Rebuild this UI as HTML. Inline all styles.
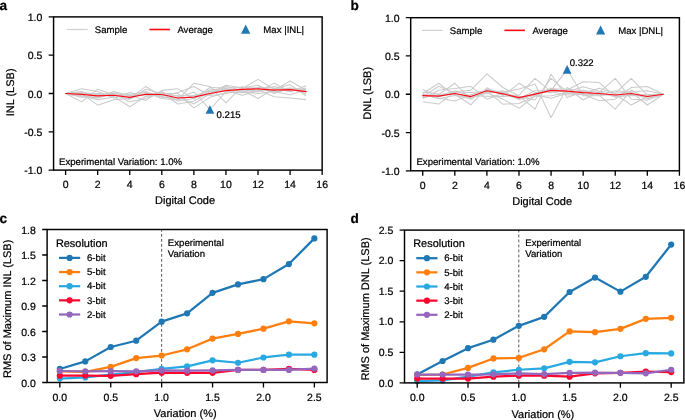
<!DOCTYPE html>
<html><head><meta charset="utf-8"><style>
html,body{margin:0;padding:0;background:#fff;width:685px;height:420px;overflow:hidden}
svg{display:block;filter:blur(0.3px)}
text{text-rendering:geometricPrecision;stroke:#000;stroke-width:0.22px;font-family:"Liberation Sans", sans-serif;fill:#000}
</style></head><body>
<svg width="685" height="420" viewBox="0 0 685 420">
<rect width="685" height="420" fill="#fff"/>
<path d="M65.6 93.5 L81.63 95.8 L97.67 99.63 L113.7 97.33 L129.73 95.8 L145.77 91.43 L161.8 97.33 L177.84 98.02 L193.87 91.97 L209.91 109.51 L225.94 91.97 L241.98 92.73 L258.01 90.9 L274.05 86.45 L290.08 89.67 L306.12 91.97" fill="none" stroke="#cbcbcb" stroke-width="1.05" stroke-linejoin="round"/>
<path d="M65.6 93.5 L81.63 101.85 L97.67 89.21 L113.7 95.03 L129.73 99.47 L145.77 89.21 L161.8 93.5 L177.84 93.5 L193.87 107.82 L209.91 97.33 L225.94 92.73 L241.98 91.97 L258.01 87.14 L274.05 88.14 L290.08 91.66 L306.12 85.84" fill="none" stroke="#cbcbcb" stroke-width="1.05" stroke-linejoin="round"/>
<path d="M65.6 93.5 L81.63 97.33 L97.67 95.8 L113.7 92.73 L129.73 97.33 L145.77 93.5 L161.8 96.56 L177.84 92.5 L193.87 86.45 L209.91 95.57 L225.94 93.5 L241.98 88.9 L258.01 79.33 L274.05 89.29 L290.08 88.14 L306.12 93.65" fill="none" stroke="#cbcbcb" stroke-width="1.05" stroke-linejoin="round"/>
<path d="M65.6 93.5 L81.63 88.67 L97.67 91.43 L113.7 98.1 L129.73 92.5 L145.77 96.33 L161.8 92.73 L177.84 103.99 L193.87 101.16 L209.91 91.81 L225.94 90.44 L241.98 95.19 L258.01 90.82 L274.05 90.44 L290.08 80.94 L306.12 90.28" fill="none" stroke="#cbcbcb" stroke-width="1.05" stroke-linejoin="round"/>
<path d="M65.6 93.5 L81.63 92.73 L97.67 94.11 L113.7 96.56 L129.73 106.75 L145.77 96.33 L161.8 95.03 L177.84 95.8 L193.87 95.8 L209.91 95.03 L225.94 86.45 L241.98 90.28 L258.01 98.48 L274.05 88.52 L290.08 84.77 L306.12 95.8" fill="none" stroke="#cbcbcb" stroke-width="1.05" stroke-linejoin="round"/>
<path d="M65.6 93.5 L81.63 93.5 L97.67 105.14 L113.7 99.63 L129.73 98.56 L145.77 86.45 L161.8 96.56 L177.84 99.63 L193.87 83.16 L209.91 86.45 L225.94 102.85 L241.98 86.45 L258.01 91.97 L274.05 83.16 L290.08 91.43 L306.12 88.06" fill="none" stroke="#cbcbcb" stroke-width="1.05" stroke-linejoin="round"/>
<path d="M65.6 93.5 L81.63 94.27 L97.67 93.5 L113.7 95.8 L129.73 94.27 L145.77 92.58 L161.8 98.56 L177.84 100.09 L193.87 95.49 L209.91 91.2 L225.94 88.9 L241.98 91.51 L258.01 93.5 L274.05 91.43 L290.08 94.73 L306.12 89.67" fill="none" stroke="#cbcbcb" stroke-width="1.05" stroke-linejoin="round"/>
<path d="M65.6 93.5 L81.63 91.43 L97.67 97.33 L113.7 91.43 L129.73 95.72 L145.77 95.03 L161.8 92.81 L177.84 96.33 L193.87 103.99 L209.91 93.5 L225.94 85.3 L241.98 87.76 L258.01 85.3 L274.05 93.5 L290.08 87.91 L306.12 89.9" fill="none" stroke="#cbcbcb" stroke-width="1.05" stroke-linejoin="round"/>
<path d="M65.6 93.5 L81.63 92.73 L97.67 94.27 L113.7 93.5 L129.73 101.85 L145.77 98.56 L161.8 91.43 L177.84 101.16 L193.87 98.48 L209.91 89.67 L225.94 88.98 L241.98 91.2 L258.01 89.67 L274.05 96.79 L290.08 97.94 L306.12 99.63" fill="none" stroke="#cbcbcb" stroke-width="1.05" stroke-linejoin="round"/>
<path d="M65.6 93.5 L81.63 96.49 L97.67 97.87 L113.7 93.58 L129.73 95.03 L145.77 100.39 L161.8 90.36 L177.84 88.67 L193.87 99.24 L209.91 87.53 L225.94 88.14 L241.98 87.53 L258.01 88.14 L274.05 92.27 L290.08 88.9 L306.12 91.2" fill="none" stroke="#cbcbcb" stroke-width="1.05" stroke-linejoin="round"/>
<path d="M65.6 93.5 L81.63 94.42 L97.67 95.8 L113.7 95.26 L129.73 97.41 L145.77 94.27 L161.8 94.5 L177.84 98.02 L193.87 97.18 L209.91 93.5 L225.94 90.67 L241.98 89.44 L258.01 88.83 L274.05 90.21 L290.08 89.59 L306.12 91.59" fill="none" stroke="#ff0a14" stroke-width="1.2" stroke-linejoin="round" stroke-linecap="round"/>
<path d="M209.91 105.16L214.26 113.86L205.56 113.86Z" fill="#1f77b4"/>
<text x="216.6" y="117.6" font-size="9.6" text-anchor="start" font-weight="normal" >0.215</text>
<rect x="53.57" y="16.9" width="268.58" height="153.2" fill="none" stroke="#000" stroke-width="1.45" stroke-linejoin="miter"/>
<path d="M65.6 170.1V175M97.67 170.1V175M129.73 170.1V175M161.8 170.1V175M193.87 170.1V175M225.94 170.1V175M258.01 170.1V175M290.08 170.1V175M322.15 170.1V175" stroke="#000" stroke-width="1.3"/>
<text x="65.6" y="188.4" font-size="10.5" text-anchor="middle" font-weight="normal" >0</text>
<text x="97.67" y="188.4" font-size="10.5" text-anchor="middle" font-weight="normal" >2</text>
<text x="129.73" y="188.4" font-size="10.5" text-anchor="middle" font-weight="normal" >4</text>
<text x="161.8" y="188.4" font-size="10.5" text-anchor="middle" font-weight="normal" >6</text>
<text x="193.87" y="188.4" font-size="10.5" text-anchor="middle" font-weight="normal" >8</text>
<text x="225.94" y="188.4" font-size="10.5" text-anchor="middle" font-weight="normal" >10</text>
<text x="258.01" y="188.4" font-size="10.5" text-anchor="middle" font-weight="normal" >12</text>
<text x="290.08" y="188.4" font-size="10.5" text-anchor="middle" font-weight="normal" >14</text>
<text x="322.15" y="188.4" font-size="10.5" text-anchor="middle" font-weight="normal" >16</text>
<path d="M53.57 16.9H48.67M53.57 55.2H48.67M53.57 93.5H48.67M53.57 131.8H48.67M53.57 170.1H48.67" stroke="#000" stroke-width="1.3"/>
<text x="42.37" y="20.95" font-size="10.5" text-anchor="end" font-weight="normal" >1.0</text>
<text x="42.37" y="59.25" font-size="10.5" text-anchor="end" font-weight="normal" >0.5</text>
<text x="42.37" y="97.55" font-size="10.5" text-anchor="end" font-weight="normal" >0.0</text>
<text x="42.37" y="135.85" font-size="10.5" text-anchor="end" font-weight="normal" >-0.5</text>
<text x="42.37" y="174.15" font-size="10.5" text-anchor="end" font-weight="normal" >-1.0</text>
<path d="M66.9 29.5H87.7" stroke="#d0d0d0" stroke-width="1.2"/>
<text x="94.8" y="32.8" font-size="9.6" text-anchor="start" font-weight="normal" >Sample</text>
<path d="M149.4 29.5H169.9" stroke="#ff0a14" stroke-width="1.6"/>
<text x="177.4" y="32.8" font-size="9.6" text-anchor="start" font-weight="normal" >Average</text>
<path d="M245.7 24.6L250.3 33.8L241.1 33.8Z" fill="#1f77b4"/>
<text x="263.35" y="32.8" font-size="9.6" text-anchor="start" font-weight="normal" >Max |INL|</text>
<path d="M422.73 94.25 L438.77 98.84 L454.81 95.55 L470.86 98.61 L486.9 91.95 L502.94 92.72 L518.98 98.38 L535.02 90.81 L551.07 90.42 L567.11 69.6 L583.15 95.78 L599.19 95.78 L615.23 90.81 L631.27 91.95 L647.32 90.81 L663.36 94.25" fill="none" stroke="#cbcbcb" stroke-width="1.05" stroke-linejoin="round"/>
<path d="M422.73 93.87 L438.77 98.23 L454.81 100.99 L470.86 94.86 L486.9 90.12 L502.94 92.11 L518.98 89.12 L535.02 84.15 L551.07 117.52 L567.11 87.51 L583.15 99.99 L599.19 91.8 L615.23 97.08 L631.27 94.25 L647.32 94.79 L663.36 94.25" fill="none" stroke="#cbcbcb" stroke-width="1.05" stroke-linejoin="round"/>
<path d="M422.73 101.75 L438.77 104.05 L454.81 91.8 L470.86 90.19 L486.9 73.89 L502.94 87.51 L518.98 96.01 L535.02 109.18 L551.07 74.19 L567.11 97.54 L583.15 91.65 L599.19 95.55 L615.23 94.25 L631.27 104.97 L647.32 96.55 L663.36 94.25" fill="none" stroke="#cbcbcb" stroke-width="1.05" stroke-linejoin="round"/>
<path d="M422.73 95.02 L438.77 95.78 L454.81 90.88 L470.86 95.78 L486.9 96.32 L502.94 96.62 L518.98 95.02 L535.02 78.33 L551.07 91.65 L567.11 95.02 L583.15 94.25 L599.19 100.83 L615.23 99.15 L631.27 87.51 L647.32 86.59 L663.36 94.25" fill="none" stroke="#cbcbcb" stroke-width="1.05" stroke-linejoin="round"/>
<path d="M422.73 96.55 L438.77 86.29 L454.81 93.18 L470.86 97.31 L486.9 93.25 L502.94 90.88 L518.98 99.76 L535.02 95.02 L551.07 98.23 L567.11 93.33 L583.15 91.03 L599.19 95.02 L615.23 109.18 L631.27 90.04 L647.32 98.38 L663.36 94.25" fill="none" stroke="#cbcbcb" stroke-width="1.05" stroke-linejoin="round"/>
<path d="M422.73 93.48 L438.77 83.23 L454.81 95.55 L470.86 97.08 L486.9 92.8 L502.94 99.15 L518.98 108.34 L535.02 95.78 L551.07 88.13 L567.11 93.1 L583.15 93.48 L599.19 88.36 L615.23 93.33 L631.27 78.33 L647.32 95.02 L663.36 94.25" fill="none" stroke="#cbcbcb" stroke-width="1.05" stroke-linejoin="round"/>
<path d="M422.73 97.62 L438.77 94.48 L454.81 83.23 L470.86 99.38 L486.9 89.04 L502.94 94.25 L518.98 98.84 L535.02 93.48 L551.07 88.74 L567.11 89.35 L583.15 90.42 L599.19 92.49 L615.23 78.33 L631.27 99.15 L647.32 99.99 L663.36 94.25" fill="none" stroke="#cbcbcb" stroke-width="1.05" stroke-linejoin="round"/>
<path d="M422.73 89.35 L438.77 97.08 L454.81 91.95 L470.86 92.49 L486.9 91.19 L502.94 104.2 L518.98 103.44 L535.02 96.24 L551.07 95.78 L567.11 92.72 L583.15 94.79 L599.19 94.25 L615.23 95.02 L631.27 93.33 L647.32 98.54 L663.36 94.25" fill="none" stroke="#cbcbcb" stroke-width="1.05" stroke-linejoin="round"/>
<path d="M422.73 91.95 L438.77 94.02 L454.81 94.25 L470.86 104.81 L486.9 87.82 L502.94 95.86 L518.98 83.3 L535.02 92.49 L551.07 92.49 L567.11 90.04 L583.15 81.7 L599.19 82.54 L615.23 96.62 L631.27 95.55 L647.32 95.78 L663.36 94.25" fill="none" stroke="#cbcbcb" stroke-width="1.05" stroke-linejoin="round"/>
<path d="M422.73 98.84 L438.77 90.19 L454.81 88.59 L470.86 86.29 L486.9 99.15 L502.94 93.33 L518.98 96.55 L535.02 99.99 L551.07 78.33 L567.11 91.95 L583.15 86.67 L599.19 91.19 L615.23 93.33 L631.27 91.8 L647.32 104.97 L663.36 94.25" fill="none" stroke="#cbcbcb" stroke-width="1.05" stroke-linejoin="round"/>
<path d="M422.73 95.55 L438.77 96.16 L454.81 93.48 L470.86 96.55 L486.9 90.73 L502.94 93.79 L518.98 97.69 L535.02 94.17 L551.07 90.42 L567.11 91.03 L583.15 92.72 L599.19 93.48 L615.23 95.02 L631.27 93.48 L647.32 96.47 L663.36 94.25" fill="none" stroke="#ff0a14" stroke-width="1.2" stroke-linejoin="round" stroke-linecap="round"/>
<path d="M567.11 64.94L571.46 73.64L562.76 73.64Z" fill="#1f77b4"/>
<text x="569.7" y="66.2" font-size="9.6" text-anchor="start" font-weight="normal" >0.322</text>
<rect x="410.7" y="17.7" width="268.7" height="153.1" fill="none" stroke="#000" stroke-width="1.45" stroke-linejoin="miter"/>
<path d="M422.73 170.8V175.7M454.81 170.8V175.7M486.9 170.8V175.7M518.98 170.8V175.7M551.07 170.8V175.7M583.15 170.8V175.7M615.23 170.8V175.7M647.32 170.8V175.7M679.4 170.8V175.7" stroke="#000" stroke-width="1.3"/>
<text x="422.73" y="189.1" font-size="10.5" text-anchor="middle" font-weight="normal" >0</text>
<text x="454.81" y="189.1" font-size="10.5" text-anchor="middle" font-weight="normal" >2</text>
<text x="486.9" y="189.1" font-size="10.5" text-anchor="middle" font-weight="normal" >4</text>
<text x="518.98" y="189.1" font-size="10.5" text-anchor="middle" font-weight="normal" >6</text>
<text x="551.07" y="189.1" font-size="10.5" text-anchor="middle" font-weight="normal" >8</text>
<text x="583.15" y="189.1" font-size="10.5" text-anchor="middle" font-weight="normal" >10</text>
<text x="615.23" y="189.1" font-size="10.5" text-anchor="middle" font-weight="normal" >12</text>
<text x="647.32" y="189.1" font-size="10.5" text-anchor="middle" font-weight="normal" >14</text>
<text x="679.4" y="189.1" font-size="10.5" text-anchor="middle" font-weight="normal" >16</text>
<path d="M410.7 17.7H405.8M410.7 55.97H405.8M410.7 94.25H405.8M410.7 132.53H405.8M410.7 170.8H405.8" stroke="#000" stroke-width="1.3"/>
<text x="399.5" y="21.75" font-size="10.5" text-anchor="end" font-weight="normal" >1.0</text>
<text x="399.5" y="60.02" font-size="10.5" text-anchor="end" font-weight="normal" >0.5</text>
<text x="399.5" y="98.3" font-size="10.5" text-anchor="end" font-weight="normal" >0.0</text>
<text x="399.5" y="136.58" font-size="10.5" text-anchor="end" font-weight="normal" >-0.5</text>
<text x="399.5" y="174.85" font-size="10.5" text-anchor="end" font-weight="normal" >-1.0</text>
<path d="M421.9 30.35H442.7" stroke="#d0d0d0" stroke-width="1.2"/>
<text x="449.8" y="33.65" font-size="9.6" text-anchor="start" font-weight="normal" >Sample</text>
<path d="M504.4 30.35H524.9" stroke="#ff0a14" stroke-width="1.6"/>
<text x="532.4" y="33.65" font-size="9.6" text-anchor="start" font-weight="normal" >Average</text>
<path d="M600.6 25.4L605.2 34.6L596 34.6Z" fill="#1f77b4"/>
<text x="618.15" y="33.65" font-size="9.6" text-anchor="start" font-weight="normal" >Max |DNL|</text>
<text x="59.05" y="164.8" font-size="9.6" text-anchor="start" font-weight="normal" >Experimental Variation: 1.0%</text>
<text x="416.45" y="165.4" font-size="9.6" text-anchor="start" font-weight="normal" >Experimental Variation: 1.0%</text>
<text x="185.05" y="204" font-size="11.0" text-anchor="middle" font-weight="normal" >Digital Code</text>
<text x="542.15" y="204.6" font-size="11.0" text-anchor="middle" font-weight="normal" >Digital Code</text>
<text x="13.95" y="92.4" font-size="11.0" text-anchor="middle" font-weight="normal" transform="rotate(-90 13.95 92.4)">INL (LSB)</text>
<text x="371" y="93.3" font-size="11.0" text-anchor="middle" font-weight="normal" transform="rotate(-90 371.0 93.3)">DNL (LSB)</text>
<path d="M161.65 229.5V382.5" stroke="#5a5a5a" stroke-width="1.0" stroke-dasharray="2.9 2.1" stroke-dashoffset="0.6"/>
<path d="M59.83 368.96 L85.28 361.39 L110.74 347.02 L136.19 340.72 L161.65 321.67 L187.1 313.33 L212.55 292.83 L238.01 284.41 L263.46 279.14 L288.92 264.08 L314.37 238.39" fill="none" stroke="#1f77b4" stroke-width="2.25" stroke-linejoin="round"/>
<circle cx="59.83" cy="368.96" r="3.1" fill="#1f77b4"/>
<circle cx="85.28" cy="361.39" r="3.1" fill="#1f77b4"/>
<circle cx="110.74" cy="347.02" r="3.1" fill="#1f77b4"/>
<circle cx="136.19" cy="340.72" r="3.1" fill="#1f77b4"/>
<circle cx="161.65" cy="321.67" r="3.1" fill="#1f77b4"/>
<circle cx="187.1" cy="313.33" r="3.1" fill="#1f77b4"/>
<circle cx="212.55" cy="292.83" r="3.1" fill="#1f77b4"/>
<circle cx="238.01" cy="284.41" r="3.1" fill="#1f77b4"/>
<circle cx="263.46" cy="279.14" r="3.1" fill="#1f77b4"/>
<circle cx="288.92" cy="264.08" r="3.1" fill="#1f77b4"/>
<circle cx="314.37" cy="238.39" r="3.1" fill="#1f77b4"/>
<path d="M59.83 371.34 L85.28 371.77 L110.74 366.92 L136.19 358.07 L161.65 355.52 L187.1 349.31 L212.55 338.59 L238.01 333.92 L263.46 328.64 L288.92 321.33 L314.37 323.37" fill="none" stroke="#ff7f0e" stroke-width="2.25" stroke-linejoin="round"/>
<circle cx="59.83" cy="371.34" r="3.1" fill="#ff7f0e"/>
<circle cx="85.28" cy="371.77" r="3.1" fill="#ff7f0e"/>
<circle cx="110.74" cy="366.92" r="3.1" fill="#ff7f0e"/>
<circle cx="136.19" cy="358.07" r="3.1" fill="#ff7f0e"/>
<circle cx="161.65" cy="355.52" r="3.1" fill="#ff7f0e"/>
<circle cx="187.1" cy="349.31" r="3.1" fill="#ff7f0e"/>
<circle cx="212.55" cy="338.59" r="3.1" fill="#ff7f0e"/>
<circle cx="238.01" cy="333.92" r="3.1" fill="#ff7f0e"/>
<circle cx="263.46" cy="328.64" r="3.1" fill="#ff7f0e"/>
<circle cx="288.92" cy="321.33" r="3.1" fill="#ff7f0e"/>
<circle cx="314.37" cy="323.37" r="3.1" fill="#ff7f0e"/>
<path d="M59.83 378.57 L85.28 377.38 L110.74 374.74 L136.19 372.19 L161.65 368.79 L187.1 366.41 L212.55 360.37 L238.01 362.75 L263.46 357.48 L288.92 354.67 L314.37 354.67" fill="none" stroke="#29a9e1" stroke-width="2.25" stroke-linejoin="round"/>
<circle cx="59.83" cy="378.57" r="3.1" fill="#29a9e1"/>
<circle cx="85.28" cy="377.38" r="3.1" fill="#29a9e1"/>
<circle cx="110.74" cy="374.74" r="3.1" fill="#29a9e1"/>
<circle cx="136.19" cy="372.19" r="3.1" fill="#29a9e1"/>
<circle cx="161.65" cy="368.79" r="3.1" fill="#29a9e1"/>
<circle cx="187.1" cy="366.41" r="3.1" fill="#29a9e1"/>
<circle cx="212.55" cy="360.37" r="3.1" fill="#29a9e1"/>
<circle cx="238.01" cy="362.75" r="3.1" fill="#29a9e1"/>
<circle cx="263.46" cy="357.48" r="3.1" fill="#29a9e1"/>
<circle cx="288.92" cy="354.67" r="3.1" fill="#29a9e1"/>
<circle cx="314.37" cy="354.67" r="3.1" fill="#29a9e1"/>
<path d="M59.83 375.68 L85.28 375.51 L110.74 375.85 L136.19 374.23 L161.65 372.7 L187.1 372.79 L212.55 372.79 L238.01 369.9 L263.46 369.9 L288.92 368.79 L314.37 369.9" fill="none" stroke="#ff0530" stroke-width="2.25" stroke-linejoin="round"/>
<circle cx="59.83" cy="375.68" r="3.1" fill="#ff0530"/>
<circle cx="85.28" cy="375.51" r="3.1" fill="#ff0530"/>
<circle cx="110.74" cy="375.85" r="3.1" fill="#ff0530"/>
<circle cx="136.19" cy="374.23" r="3.1" fill="#ff0530"/>
<circle cx="161.65" cy="372.7" r="3.1" fill="#ff0530"/>
<circle cx="187.1" cy="372.79" r="3.1" fill="#ff0530"/>
<circle cx="212.55" cy="372.79" r="3.1" fill="#ff0530"/>
<circle cx="238.01" cy="369.9" r="3.1" fill="#ff0530"/>
<circle cx="263.46" cy="369.9" r="3.1" fill="#ff0530"/>
<circle cx="288.92" cy="368.79" r="3.1" fill="#ff0530"/>
<circle cx="314.37" cy="369.9" r="3.1" fill="#ff0530"/>
<path d="M59.83 371 L85.28 371.26 L110.74 371.17 L136.19 371.34 L161.65 370.49 L187.1 370.66 L212.55 370.41 L238.01 369.9 L263.46 369.9 L288.92 369.9 L314.37 368.62" fill="none" stroke="#9467bd" stroke-width="2.25" stroke-linejoin="round"/>
<circle cx="59.83" cy="371" r="3.1" fill="#9467bd"/>
<circle cx="85.28" cy="371.26" r="3.1" fill="#9467bd"/>
<circle cx="110.74" cy="371.17" r="3.1" fill="#9467bd"/>
<circle cx="136.19" cy="371.34" r="3.1" fill="#9467bd"/>
<circle cx="161.65" cy="370.49" r="3.1" fill="#9467bd"/>
<circle cx="187.1" cy="370.66" r="3.1" fill="#9467bd"/>
<circle cx="212.55" cy="370.41" r="3.1" fill="#9467bd"/>
<circle cx="238.01" cy="369.9" r="3.1" fill="#9467bd"/>
<circle cx="263.46" cy="369.9" r="3.1" fill="#9467bd"/>
<circle cx="288.92" cy="369.9" r="3.1" fill="#9467bd"/>
<circle cx="314.37" cy="368.62" r="3.1" fill="#9467bd"/>
<rect x="47.1" y="229.5" width="280" height="153" fill="none" stroke="#000" stroke-width="1.45" stroke-linejoin="miter"/>
<path d="M59.83 382.5V387.4M110.74 382.5V387.4M161.65 382.5V387.4M212.55 382.5V387.4M263.46 382.5V387.4M314.37 382.5V387.4" stroke="#000" stroke-width="1.3"/>
<text x="59.83" y="400.6" font-size="10.5" text-anchor="middle" font-weight="normal" >0.0</text>
<text x="110.74" y="400.6" font-size="10.5" text-anchor="middle" font-weight="normal" >0.5</text>
<text x="161.65" y="400.6" font-size="10.5" text-anchor="middle" font-weight="normal" >1.0</text>
<text x="212.55" y="400.6" font-size="10.5" text-anchor="middle" font-weight="normal" >1.5</text>
<text x="263.46" y="400.6" font-size="10.5" text-anchor="middle" font-weight="normal" >2.0</text>
<text x="314.37" y="400.6" font-size="10.5" text-anchor="middle" font-weight="normal" >2.5</text>
<path d="M47.1 382.5H42.2M47.1 357H42.2M47.1 331.5H42.2M47.1 306H42.2M47.1 280.5H42.2M47.1 255H42.2M47.1 229.5H42.2" stroke="#000" stroke-width="1.3"/>
<text x="35.9" y="386.55" font-size="10.5" text-anchor="end" font-weight="normal" >0.0</text>
<text x="35.9" y="361.05" font-size="10.5" text-anchor="end" font-weight="normal" >0.3</text>
<text x="35.9" y="335.55" font-size="10.5" text-anchor="end" font-weight="normal" >0.6</text>
<text x="35.9" y="310.05" font-size="10.5" text-anchor="end" font-weight="normal" >0.9</text>
<text x="35.9" y="284.55" font-size="10.5" text-anchor="end" font-weight="normal" >1.2</text>
<text x="35.9" y="259.05" font-size="10.5" text-anchor="end" font-weight="normal" >1.5</text>
<text x="35.9" y="233.55" font-size="10.5" text-anchor="end" font-weight="normal" >1.8</text>
<text x="55.9" y="246.7" font-size="10.95" text-anchor="start" font-weight="normal" >Resolution</text>
<path d="M59 257.9H80.2" stroke="#1f77b4" stroke-width="2.25"/>
<circle cx="69.6" cy="257.9" r="3.1" fill="#1f77b4"/>
<text x="86.9" y="261.1" font-size="9.6" text-anchor="start" font-weight="normal" >6-bit</text>
<path d="M59 272.05H80.2" stroke="#ff7f0e" stroke-width="2.25"/>
<circle cx="69.6" cy="272.05" r="3.1" fill="#ff7f0e"/>
<text x="86.9" y="275.25" font-size="9.6" text-anchor="start" font-weight="normal" >5-bit</text>
<path d="M59 286.2H80.2" stroke="#29a9e1" stroke-width="2.25"/>
<circle cx="69.6" cy="286.2" r="3.1" fill="#29a9e1"/>
<text x="86.9" y="289.4" font-size="9.6" text-anchor="start" font-weight="normal" >4-bit</text>
<path d="M59 300.35H80.2" stroke="#ff0530" stroke-width="2.25"/>
<circle cx="69.6" cy="300.35" r="3.1" fill="#ff0530"/>
<text x="86.9" y="303.55" font-size="9.6" text-anchor="start" font-weight="normal" >3-bit</text>
<path d="M59 314.5H80.2" stroke="#9467bd" stroke-width="2.25"/>
<circle cx="69.6" cy="314.5" r="3.1" fill="#9467bd"/>
<text x="86.9" y="317.7" font-size="9.6" text-anchor="start" font-weight="normal" >2-bit</text>
<text x="167.85" y="246" font-size="9.6" text-anchor="start" font-weight="normal" >Experimental</text>
<text x="167.85" y="256.9" font-size="9.6" text-anchor="start" font-weight="normal" >Variation</text>
<path d="M518.8 230.1V382.9" stroke="#5a5a5a" stroke-width="1.0" stroke-dasharray="2.9 2.1" stroke-dashoffset="0.6"/>
<path d="M417.2 374.39 L442.6 361.02 L468 348.19 L493.4 339.7 L518.8 325.83 L544.2 316.86 L569.6 292 L595 277.58 L620.4 291.63 L645.8 276.79 L671.2 244.54" fill="none" stroke="#1f77b4" stroke-width="2.25" stroke-linejoin="round"/>
<circle cx="417.2" cy="374.39" r="3.1" fill="#1f77b4"/>
<circle cx="442.6" cy="361.02" r="3.1" fill="#1f77b4"/>
<circle cx="468" cy="348.19" r="3.1" fill="#1f77b4"/>
<circle cx="493.4" cy="339.7" r="3.1" fill="#1f77b4"/>
<circle cx="518.8" cy="325.83" r="3.1" fill="#1f77b4"/>
<circle cx="544.2" cy="316.86" r="3.1" fill="#1f77b4"/>
<circle cx="569.6" cy="292" r="3.1" fill="#1f77b4"/>
<circle cx="595" cy="277.58" r="3.1" fill="#1f77b4"/>
<circle cx="620.4" cy="291.63" r="3.1" fill="#1f77b4"/>
<circle cx="645.8" cy="276.79" r="3.1" fill="#1f77b4"/>
<circle cx="671.2" cy="244.54" r="3.1" fill="#1f77b4"/>
<path d="M417.2 374.76 L442.6 374.52 L468 367.92 L493.4 358.45 L518.8 357.9 L544.2 349.29 L569.6 331.45 L595 332.13 L620.4 328.83 L645.8 318.87 L671.2 317.77" fill="none" stroke="#ff7f0e" stroke-width="2.25" stroke-linejoin="round"/>
<circle cx="417.2" cy="374.76" r="3.1" fill="#ff7f0e"/>
<circle cx="442.6" cy="374.52" r="3.1" fill="#ff7f0e"/>
<circle cx="468" cy="367.92" r="3.1" fill="#ff7f0e"/>
<circle cx="493.4" cy="358.45" r="3.1" fill="#ff7f0e"/>
<circle cx="518.8" cy="357.9" r="3.1" fill="#ff7f0e"/>
<circle cx="544.2" cy="349.29" r="3.1" fill="#ff7f0e"/>
<circle cx="569.6" cy="331.45" r="3.1" fill="#ff7f0e"/>
<circle cx="595" cy="332.13" r="3.1" fill="#ff7f0e"/>
<circle cx="620.4" cy="328.83" r="3.1" fill="#ff7f0e"/>
<circle cx="645.8" cy="318.87" r="3.1" fill="#ff7f0e"/>
<circle cx="671.2" cy="317.77" r="3.1" fill="#ff7f0e"/>
<path d="M417.2 381.11 L442.6 380.32 L468 376.71 L493.4 372.32 L518.8 369.75 L544.2 368.29 L569.6 361.87 L595 362.36 L620.4 356.25 L645.8 353.14 L671.2 353.38" fill="none" stroke="#29a9e1" stroke-width="2.25" stroke-linejoin="round"/>
<circle cx="417.2" cy="381.11" r="3.1" fill="#29a9e1"/>
<circle cx="442.6" cy="380.32" r="3.1" fill="#29a9e1"/>
<circle cx="468" cy="376.71" r="3.1" fill="#29a9e1"/>
<circle cx="493.4" cy="372.32" r="3.1" fill="#29a9e1"/>
<circle cx="518.8" cy="369.75" r="3.1" fill="#29a9e1"/>
<circle cx="544.2" cy="368.29" r="3.1" fill="#29a9e1"/>
<circle cx="569.6" cy="361.87" r="3.1" fill="#29a9e1"/>
<circle cx="595" cy="362.36" r="3.1" fill="#29a9e1"/>
<circle cx="620.4" cy="356.25" r="3.1" fill="#29a9e1"/>
<circle cx="645.8" cy="353.14" r="3.1" fill="#29a9e1"/>
<circle cx="671.2" cy="353.38" r="3.1" fill="#29a9e1"/>
<path d="M417.2 378.61 L442.6 378.61 L468 378.61 L493.4 376.71 L518.8 375.68 L544.2 375.68 L569.6 376.71 L595 373.35 L620.4 372.87 L645.8 371.58 L671.2 372.07" fill="none" stroke="#ff0530" stroke-width="2.25" stroke-linejoin="round"/>
<circle cx="417.2" cy="378.61" r="3.1" fill="#ff0530"/>
<circle cx="442.6" cy="378.61" r="3.1" fill="#ff0530"/>
<circle cx="468" cy="378.61" r="3.1" fill="#ff0530"/>
<circle cx="493.4" cy="376.71" r="3.1" fill="#ff0530"/>
<circle cx="518.8" cy="375.68" r="3.1" fill="#ff0530"/>
<circle cx="544.2" cy="375.68" r="3.1" fill="#ff0530"/>
<circle cx="569.6" cy="376.71" r="3.1" fill="#ff0530"/>
<circle cx="595" cy="373.35" r="3.1" fill="#ff0530"/>
<circle cx="620.4" cy="372.87" r="3.1" fill="#ff0530"/>
<circle cx="645.8" cy="371.58" r="3.1" fill="#ff0530"/>
<circle cx="671.2" cy="372.07" r="3.1" fill="#ff0530"/>
<path d="M417.2 374.52 L442.6 374.52 L468 374.52 L493.4 374.27 L518.8 373.35 L544.2 374.09 L569.6 372.87 L595 372.56 L620.4 372.87 L645.8 373.35 L671.2 369.75" fill="none" stroke="#9467bd" stroke-width="2.25" stroke-linejoin="round"/>
<circle cx="417.2" cy="374.52" r="3.1" fill="#9467bd"/>
<circle cx="442.6" cy="374.52" r="3.1" fill="#9467bd"/>
<circle cx="468" cy="374.52" r="3.1" fill="#9467bd"/>
<circle cx="493.4" cy="374.27" r="3.1" fill="#9467bd"/>
<circle cx="518.8" cy="373.35" r="3.1" fill="#9467bd"/>
<circle cx="544.2" cy="374.09" r="3.1" fill="#9467bd"/>
<circle cx="569.6" cy="372.87" r="3.1" fill="#9467bd"/>
<circle cx="595" cy="372.56" r="3.1" fill="#9467bd"/>
<circle cx="620.4" cy="372.87" r="3.1" fill="#9467bd"/>
<circle cx="645.8" cy="373.35" r="3.1" fill="#9467bd"/>
<circle cx="671.2" cy="369.75" r="3.1" fill="#9467bd"/>
<rect x="404.5" y="230.1" width="279.4" height="152.8" fill="none" stroke="#000" stroke-width="1.45" stroke-linejoin="miter"/>
<path d="M417.2 382.9V387.8M468 382.9V387.8M518.8 382.9V387.8M569.6 382.9V387.8M620.4 382.9V387.8M671.2 382.9V387.8" stroke="#000" stroke-width="1.3"/>
<text x="417.2" y="401" font-size="10.5" text-anchor="middle" font-weight="normal" >0.0</text>
<text x="468" y="401" font-size="10.5" text-anchor="middle" font-weight="normal" >0.5</text>
<text x="518.8" y="401" font-size="10.5" text-anchor="middle" font-weight="normal" >1.0</text>
<text x="569.6" y="401" font-size="10.5" text-anchor="middle" font-weight="normal" >1.5</text>
<text x="620.4" y="401" font-size="10.5" text-anchor="middle" font-weight="normal" >2.0</text>
<text x="671.2" y="401" font-size="10.5" text-anchor="middle" font-weight="normal" >2.5</text>
<path d="M404.5 382.9H399.6M404.5 352.34H399.6M404.5 321.78H399.6M404.5 291.22H399.6M404.5 260.66H399.6M404.5 230.1H399.6" stroke="#000" stroke-width="1.3"/>
<text x="393.3" y="386.5" font-size="10.5" text-anchor="end" font-weight="normal" >0.0</text>
<text x="393.3" y="355.94" font-size="10.5" text-anchor="end" font-weight="normal" >0.5</text>
<text x="393.3" y="325.38" font-size="10.5" text-anchor="end" font-weight="normal" >1.0</text>
<text x="393.3" y="294.82" font-size="10.5" text-anchor="end" font-weight="normal" >1.5</text>
<text x="393.3" y="264.26" font-size="10.5" text-anchor="end" font-weight="normal" >2.0</text>
<text x="393.3" y="233.7" font-size="10.5" text-anchor="end" font-weight="normal" >2.5</text>
<text x="413.2" y="247" font-size="10.95" text-anchor="start" font-weight="normal" >Resolution</text>
<path d="M416.3 258.2H437.5" stroke="#1f77b4" stroke-width="2.25"/>
<circle cx="426.9" cy="258.2" r="3.1" fill="#1f77b4"/>
<text x="444.2" y="261.4" font-size="9.6" text-anchor="start" font-weight="normal" >6-bit</text>
<path d="M416.3 272.35H437.5" stroke="#ff7f0e" stroke-width="2.25"/>
<circle cx="426.9" cy="272.35" r="3.1" fill="#ff7f0e"/>
<text x="444.2" y="275.55" font-size="9.6" text-anchor="start" font-weight="normal" >5-bit</text>
<path d="M416.3 286.5H437.5" stroke="#29a9e1" stroke-width="2.25"/>
<circle cx="426.9" cy="286.5" r="3.1" fill="#29a9e1"/>
<text x="444.2" y="289.7" font-size="9.6" text-anchor="start" font-weight="normal" >4-bit</text>
<path d="M416.3 300.65H437.5" stroke="#ff0530" stroke-width="2.25"/>
<circle cx="426.9" cy="300.65" r="3.1" fill="#ff0530"/>
<text x="444.2" y="303.85" font-size="9.6" text-anchor="start" font-weight="normal" >3-bit</text>
<path d="M416.3 314.8H437.5" stroke="#9467bd" stroke-width="2.25"/>
<circle cx="426.9" cy="314.8" r="3.1" fill="#9467bd"/>
<text x="444.2" y="318" font-size="9.6" text-anchor="start" font-weight="normal" >2-bit</text>
<text x="525.25" y="246.3" font-size="9.6" text-anchor="start" font-weight="normal" >Experimental</text>
<text x="525.25" y="257.2" font-size="9.6" text-anchor="start" font-weight="normal" >Variation</text>
<text x="185.2" y="417.1" font-size="11.0" text-anchor="middle" font-weight="normal" >Variation (%)</text>
<text x="542.9" y="418.1" font-size="11.0" text-anchor="middle" font-weight="normal" >Variation (%)</text>
<text x="11.5" y="308.85" font-size="11.0" text-anchor="middle" font-weight="normal" transform="rotate(-90 11.5 308.85)">RMS of Maximum INL (LSB)</text>
<text x="368.6" y="308.95" font-size="11.0" text-anchor="middle" font-weight="normal" transform="rotate(-90 368.6 308.95)">RMS of Maximum DNL (LSB)</text>
<text x="-0.4" y="9.7" font-size="13.6" text-anchor="start" font-weight="bold" >a</text>
<text x="350.4" y="9.7" font-size="13.6" text-anchor="start" font-weight="bold" >b</text>
<text x="-0.5" y="222.8" font-size="13.6" text-anchor="start" font-weight="bold" >c</text>
<text x="350.5" y="222.8" font-size="13.6" text-anchor="start" font-weight="bold" >d</text>
</svg>
</body></html>
